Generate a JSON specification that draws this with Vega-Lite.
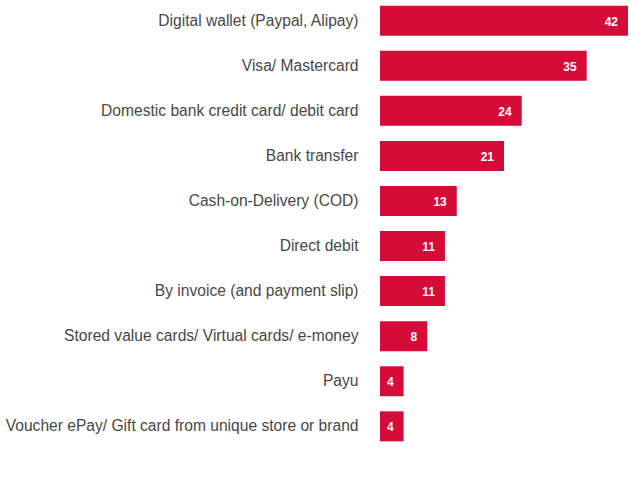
{
  "$schema": "https://vega.github.io/schema/vega-lite/v6.json",
  "autosize": "none",
  "padding": {"left": 380, "top": 0, "right": 5, "bottom": 38},
  "width": 248,
  "height": 447,
  "background": "white",
  "config": {"view": {"stroke": null}, "font": "Liberation Sans"},
  "data": {"values": [
    {"method": "Digital wallet (Paypal, Alipay)", "value": 42},
    {"method": "Visa/ Mastercard", "value": 35},
    {"method": "Domestic bank credit card/ debit card", "value": 24},
    {"method": "Bank transfer", "value": 21},
    {"method": "Cash-on-Delivery (COD)", "value": 13},
    {"method": "Direct debit", "value": 11},
    {"method": "By invoice (and payment slip)", "value": 11},
    {"method": "Stored value cards/ Virtual cards/ e-money", "value": 8},
    {"method": "Payu", "value": 4},
    {"method": "Voucher ePay/ Gift card from unique store or brand", "value": 4}
  ]},
  "encoding": {
    "y": {"field": "method", "type": "nominal", "sort": null,
      "scale": {"paddingInner": 0.335, "paddingOuter": 0.126},
      "axis": {"title": null, "domain": false, "ticks": false, "labelPadding": 22,
        "labelFontSize": 15.6, "labelColor": "#474747", "labelFont": "Liberation Sans", "labelLimit": 400}},
    "x": {"field": "value", "type": "quantitative",
      "scale": {"domain": [0, 42], "nice": false, "zero": true},
      "axis": null}
  },
  "layer": [
    {"mark": {"type": "bar", "color": "#d50b38"}},
    {"mark": {"type": "text", "align": "right", "dx": -10, "dy": 1, "color": "white", "fontWeight": "bold", "fontSize": 12, "font": "Liberation Sans"},
     "encoding": {"text": {"field": "value", "type": "quantitative"}}}
  ]
}
